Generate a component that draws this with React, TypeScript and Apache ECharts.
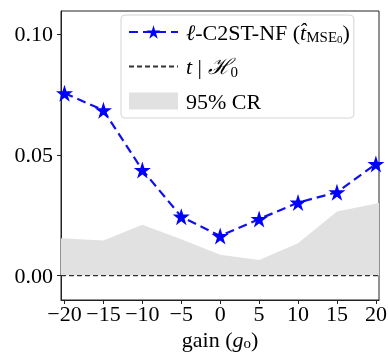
import React, { useEffect, useRef } from "react";
import * as echarts from "echarts";

const gains = [-20, -15, -10, -5, 0, 5, 10, 15, 20];
const c2stValues = [0.0755, 0.0684, 0.0437, 0.0244, 0.0164, 0.0234, 0.0302, 0.0345, 0.0462];
const crX = [-20.5, -15, -10, -5, 0, 5, 10, 15, 20.5];
const crUpper = [0.0155, 0.0145, 0.021, 0.015, 0.0086, 0.0065, 0.0134, 0.0265, 0.0301];
const h0Value = 0;
const xTicks = [-20, -15, -10, -5, 0, 5, 10, 15, 20];
const yTicks = [0, 0.05, 0.1];
const X_MIN = -20.45;
const X_MAX = 20.4;
const Y_MIN = -0.0101;
const Y_MAX = 0.1095;

const FONT = "'Liberation Serif', 'DejaVu Serif', serif";
const STAR =
  "path://M50,0 L61.8,36.3 L100,36.3 L69.1,58.8 L80.9,95.1 L50,72.7 L19.1,95.1 L30.9,58.8 L0,36.3 L38.2,36.3 Z";

const NAME_C2ST = "c2st";
const NAME_H0 = "h0";
const NAME_CR = "cr";

export default function App() {
  const ref = useRef<HTMLDivElement>(null);
  useEffect(() => {
    if (!ref.current) return;
    const chart = echarts.init(ref.current, undefined, { renderer: "svg" });
    const FS = 22;
    const rich = {
      r: { fontFamily: FONT, fontSize: FS, lineHeight: 25, color: "#000" },
      i: { fontFamily: FONT, fontSize: FS, lineHeight: 25, fontStyle: "italic", color: "#000" },
      s: { fontFamily: FONT, fontSize: 15, lineHeight: 13, verticalAlign: "bottom", color: "#000" },
      ss: { fontFamily: FONT, fontSize: 11, lineHeight: 8, verticalAlign: "bottom", color: "#000" },
    };
    const nameRich = {
      r: { fontFamily: FONT, fontSize: FS, lineHeight: 22, color: "#000" },
      i: { fontFamily: FONT, fontSize: FS, lineHeight: 22, fontStyle: "italic", color: "#000" },
      so: { fontFamily: FONT, fontSize: 15, lineHeight: 11, verticalAlign: "bottom", color: "#000" },
    };
    chart.setOption({
      animation: false,
      grid: {
        left: 61,
        right: 9,
        top: 11,
        bottom: 52,
        outerBoundsMode: "none",
        containLabel: false,
        show: true,
        borderColor: "#222",
        borderWidth: 1,
        backgroundColor: "transparent",
      },
      xAxis: {
        type: "value",
        min: X_MIN,
        max: X_MAX,
        splitLine: { show: false },
        axisLine: { show: true, onZero: false, lineStyle: { color: "#222", width: 1 } },
        axisTick: { show: true, length: 4, lineStyle: { color: "#222" }, customValues: xTicks },
        axisLabel: {
          margin: 2,
          customValues: xTicks,
          fontFamily: FONT,
          fontSize: FS,
          color: "#000",
          formatter: (v: number) => String(v).replace("-", "\u2212"),
        },
        name: "{r|gain (}{i|g}{so|o}{r|)}",
        nameLocation: "middle",
        nameGap: 28,
        nameTextStyle: { rich: nameRich },
      },
      yAxis: {
        type: "value",
        min: Y_MIN,
        max: Y_MAX,
        splitLine: { show: false },
        axisLine: { show: true, onZero: false, lineStyle: { color: "#222", width: 1 } },
        axisTick: { show: true, length: 4, lineStyle: { color: "#222" }, customValues: yTicks },
        axisLabel: {
          margin: 8,
          customValues: yTicks,
          fontFamily: FONT,
          fontSize: FS,
          color: "#000",
          formatter: (v: number) => v.toFixed(2),
        },
      },
      legend: {
        orient: "vertical",
        left: 121,
        top: 15,
        padding: [6, 4, 6, 7],
        itemGap: 11,
        itemWidth: 49,
        itemHeight: 17,
        backgroundColor: "rgba(255,255,255,0.85)",
        borderColor: "#d4d4d4",
        borderWidth: 1,
        borderRadius: 4,
        textStyle: { rich, padding: [0, 0, 0, 3] },
        data: [
          { name: NAME_C2ST },
          { name: NAME_H0, itemStyle: { opacity: 0 } },
          { name: NAME_CR, icon: "rect" },
        ],
        formatter: (name: string) => {
          if (name === NAME_C2ST) return "{i|\u2113}{r|-C2ST-NF (}{i|t\u0302}{s|MSE}{ss|0}{r|)}";
          if (name === NAME_H0) return "{i|t}{r| | }{i|\u210B}{s|0}";
          return "{r|95% CR}";
        },
      },
      series: [
        {
          name: NAME_CR,
          type: "line",
          data: crX.map((x, k) => [x, crUpper[k]]),
          symbol: "none",
          lineStyle: { width: 0, opacity: 0 },
          itemStyle: { color: "#e1e1e1" },
          areaStyle: { color: "#e1e1e1", opacity: 1, origin: 0 },
          z: 1,
        },
        {
          name: NAME_H0,
          type: "line",
          data: [X_MIN, X_MAX].map((x) => [x, h0Value]),
          symbol: "none",
          itemStyle: { color: "#333" },
          lineStyle: { color: "#333", width: 1.4, type: [5, 3] },
          z: 2,
        },
        {
          name: NAME_C2ST,
          type: "line",
          data: gains.map((g, k) => [g, c2stValues[k]]),
          symbol: STAR,
          symbolSize: 17,
          itemStyle: { color: "#0000ff" },
          lineStyle: { color: "#1010ee", width: 2.2, type: [9, 5] },
          z: 3,
        },
      ],
    });
    return () => chart.dispose();
  }, []);
  return (
    <div
      ref={ref}
      style={{ position: "fixed", left: 0, top: 0, width: 388, height: 352 }}
    />
  );
}
